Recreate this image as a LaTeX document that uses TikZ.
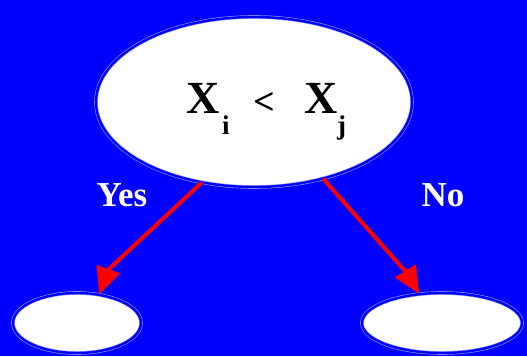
\documentclass[tikz,border=0pt]{standalone}
\usepackage{fontspec}
\setmainfont{Liberation Serif}
\usetikzlibrary{arrows.meta,shapes.geometric}
\definecolor{bgblue}{RGB}{0,0,255}
\definecolor{rim}{RGB}{150,150,255}
\tikzset{
  leaf/.style={ellipse, inner sep=0pt, fill=white, draw=rim, line width=0.6pt,
    double=bgblue, double distance=2.4pt},
  link/.style={draw=red, line width=4pt, -{Triangle[length=27pt,width=24pt]}},
  lab/.style={text=white, font=\fontsize{35}{35}\selectfont\bfseries, inner sep=0pt, anchor=base},
  big/.style={text=black, font=\fontsize{46}{46}\selectfont\bfseries, inner sep=0pt, anchor=base west},
  sub/.style={text=black, font=\fontsize{27}{27}\selectfont\bfseries, inner sep=0pt, anchor=base west},
}
\begin{document}
\begin{tikzpicture}[x=1pt,y=-1pt]
\fill[bgblue] (0,0) rectangle (527,356);
\useasboundingbox (0,0) rectangle (527,356);
\node[leaf, minimum width=316pt, minimum height=170pt] (root) at (254,102) {};
\node[leaf, minimum width=128pt, minimum height=60pt] (yesleaf) at (77,323) {};
\node[leaf, minimum width=160pt, minimum height=60pt] (noleaf) at (442,323) {};
\node[big] (xa) at (186,113) {X};
\node[sub] (si) at (222,134) {i};
\node[text=black, font=\fontsize{38}{38}\selectfont\bfseries, inner sep=0pt] (lt) at (264,103) {<};
\node[big] (xb) at (304,113) {X};
\node[sub] (sj) at (337,134) {j};
\node[lab] (yes) at (122,206) {Yes};
\node[lab] (no) at (443,206) {No};
\coordinate (kyes) at (108,270);
\coordinate (kno) at (406,272);
\draw[link] (root.237) -- (kyes) -- (yesleaf.52);
\draw[link] (root.312) -- (kno) -- (noleaf.128);
\end{tikzpicture}
\end{document}
